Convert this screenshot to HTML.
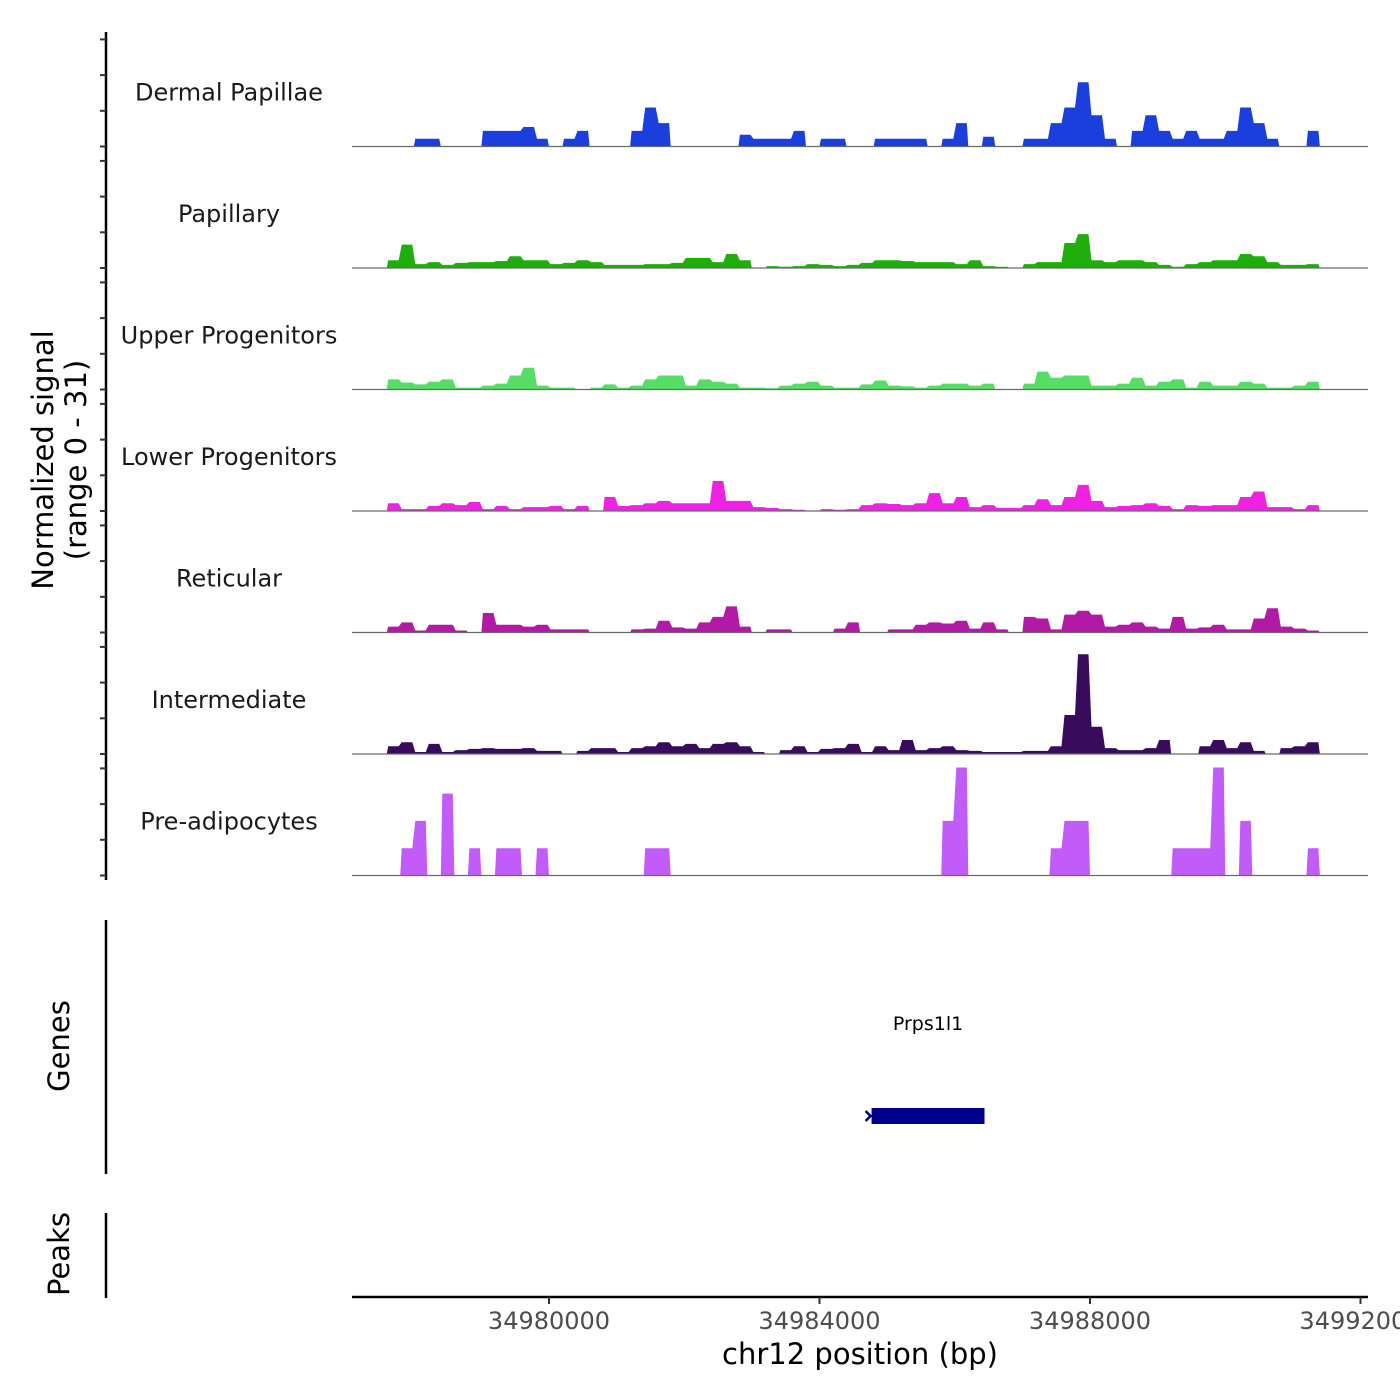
<!DOCTYPE html>
<html><head><meta charset="utf-8"><style>
html,body{margin:0;padding:0;background:#fff;width:1400px;height:1400px;overflow:hidden}
svg{display:block;font-family:"DejaVu Sans","Liberation Sans",sans-serif}
</style></head><body>
<svg id="chart" width="1400" height="1400" viewBox="0 0 1400 1400">
<g id="tracks"></g>
<g id="leftaxis"></g>
<text transform="translate(53,460) rotate(-90)" text-anchor="middle" font-size="29" fill="#000">Normalized signal</text>
<text transform="translate(86,460) rotate(-90)" text-anchor="middle" font-size="29" fill="#000">(range 0 - 31)</text>
<line x1="106" y1="920" x2="106" y2="1174" stroke="#000" stroke-width="2.5"/>
<text transform="translate(69,1046) rotate(-90)" text-anchor="middle" font-size="29" fill="#000">Genes</text>
<line x1="106" y1="1213" x2="106" y2="1298" stroke="#000" stroke-width="2.5"/>
<text transform="translate(69,1254) rotate(-90)" text-anchor="middle" font-size="29" fill="#000">Peaks</text>
<g id="genes"></g>
<g id="xaxis"></g>
<text x="860" y="1364" text-anchor="middle" font-size="29" fill="#000">chr12 position (bp)</text>
</svg>
<script>
const binStart = 34977000;
const binSize = 200;
const trackNames = ["Dermal Papillae","Papillary","Upper Progenitors","Lower Progenitors","Reticular","Intermediate","Pre-adipocytes"];
const trackColors = ["#1a3fdc","#1fae0c","#55dd66","#ee22e2","#b21aa6","#390b5c","#c25cf8"];
const dermal = [0,0,0,0,0,2,2,0,0,0, 4,4,4,5,2,0,2,4,0,0, 0,4,10,6,0,0,0,0,0,3, 2,2,2,4,0,2,2,0,0,2, 2,2,2,0,2,6,0,2.5,0,0, 2,2,6,10,16.5,8,2,0,4,8, 4,2,4,2,2,4,10,6,2,0, 0,4,0,0,0];
const papillary = [0,0,0,2,6,1,1.5,.8,1.3,1.5, 1.5,1.8,3,2,2,1,1.3,2,1.5,.8, .8,.8,1,1,1.3,2.6,2.6,1.5,3.6,2, 0,.5,.3,.5,1,.8,.5,.8,1.3,2, 2,1.8,1.5,1.5,1.5,1,2,.5,.3,0, 1,1.5,1.5,6.4,8.7,2,1.5,2,2,1.5, .8,.3,1,1.5,2,2,3.6,3,1.5,.8, .8,1,0,0,0];
const upper = [0,0,0,2.6,1.8,1.3,2,2.6,.5,.5, 1,1.5,3.6,5.6,1,.5,.5,0,.5,1.3, .5,1,2.6,3.6,3.6,1,2.6,2,1.5,.5, .5,.3,1,1.5,2,1,.5,.5,1.3,2.3, 1,.8,.5,1,1.5,1.5,1,1.5,0,0, 1.5,4.6,3,3.6,3.6,1,1,1.5,3,1, 2,2.6,.5,2,1,1,2,1.5,.5,.5, 1,2,0,0,0];
const lower = [0,0,0,2,.5,.5,1.3,2,1.5,2.3, .5,1.3,.5,1,1,1.3,.5,1.3,0,3.6, 1.3,1.5,2,2.6,2,2,2,7.7,2.6,2.6, 1,.8,.5,.3,0,.5,.3,.5,1.5,2, 1.8,1.5,2,4.6,2,3.6,1,1.5,.8,.8, 1.5,3,1.5,3.6,6.7,2.6,1,1.3,1.5,2, 1.3,.5,1.5,1.3,1.5,1.5,3.6,5,1,1, .5,1.5,0,0,0];
const reticular = [0,0,0,1.5,2.6,.5,2,2,.5,0, 5,2,2,1.5,2,.8,.8,.8,0,0, 0,.8,1,3,1.3,1,2.6,4,6.7,1.5, 0,.8,.8,0,0,0,1,2.6,0,0, .8,.8,2,2.6,2.3,3,1,2.6,.8,0, 4,3.6,.8,4.6,5.6,4.6,1.5,2,2.6,1.5, 1,4,1,1.3,2,.8,.8,3.6,6.2,1.5, 1,.5,0,0,0];
const intermediate = [0,0,0,2,3,.5,2.6,.5,1,1.3, 1.5,1.3,1.3,1.5,.8,.8,0,.8,1.5,1.5, .5,1.5,2,3,2,2.6,1.5,2.6,3,2, .5,0,1,2,.5,1.3,1.5,2.6,.5,2, 1,3.6,1,1.5,2,1,.8,.5,.5,.5, .8,.8,2,10,25.6,7,1.5,1,1,1.5, 3.6,0,0,2,3.6,1.5,3,.8,0,1.5, 2,3,0,0,0];
const preadipocytes = [0,0,0,0,7,14,0,21,0,7, 0,7,7,0,7,0,0,0,0,0, 0,0,7,7,0,0,0,0,0,0, 0,0,0,0,0,0,0,0,0,0, 0,0,0,0,14,27.7,0,0,0,0, 0,0,7,14,14,0,0,0,0,0, 0,7,7,7,27.7,0,14,0,0,0, 0,7,0,0,0];
const xTicks = [34980000,34984000,34988000,34992000];
const xTickLabels = ["34980000","34984000","34988000","34992000"];
const geneNames = ["Prps1l1"];
const geneStarts = [34984770];
const geneEnds = [34986440];

const series = [dermal,papillary,upper,lower,reticular,intermediate,preadipocytes];
const NS="http://www.w3.org/2000/svg";
const X0=352, X1=1368;
function xScale(bp){ return 549 + (bp-34980000)*(270.5/4000); }
const trackH = 121.5, firstBase = 146.5, pxPerUnit = 3.9;
function baseY(t){ return firstBase + t*trackH; }
function yScale(t,v){ return baseY(t) - v*pxPerUnit; }
function mk(tag,attrs,parent){ const e=document.createElementNS(NS,tag); for(const k in attrs) e.setAttribute(k,attrs[k]); parent.appendChild(e); return e; }

const tracksG=document.getElementById('tracks');
series.forEach((vals,t)=>{
  const g=mk('g',{},tracksG);
  
  
  const b=baseY(t);
  let d='M'+xScale(binStart).toFixed(1)+' '+b;
  vals.forEach((v,i)=>{
    const xa=xScale(binStart+binSize*i), xb=xScale(binStart+binSize*(i+1));
    const y=yScale(t,v).toFixed(1);
    const inset = v>0 ? 1.5 : 0;
    d+=' L'+(xa+inset).toFixed(1)+' '+y+' L'+(xb-inset).toFixed(1)+' '+y;
  });
  d+=' L'+xScale(binStart+binSize*vals.length).toFixed(1)+' '+b+' Z';
  const p=mk('path',{d:d,fill:trackColors[t],stroke:'none'},g);
  
  
  const l=mk('line',{x1:X0,x2:X1,y1:b,y2:b,stroke:'#6a6a6a','stroke-width':1.2},g);
  
  
  const tx=mk('text',{x:229,y:b-46,'text-anchor':'middle','font-size':24,fill:'#1a1a1a'},g);
  
  
  tx.textContent=trackNames[t];
});

const la=document.getElementById('leftaxis');
const ax=mk('line',{x1:106,x2:106,y1:32,y2:880,stroke:'#000','stroke-width':2.5},la);


for(let t=0;t<7;t++){
  for(let k=0;k<4;k++){
    const y=baseY(t)-k*35.7;
    const tk=mk('line',{x1:100,x2:106,y1:y,y2:y,stroke:'#333','stroke-width':2},la);
    
    
  }
}

const gg=document.getElementById('genes');
geneNames.forEach((n,i)=>{
  const xs=xScale(geneStarts[i]), xe=xScale(geneEnds[i]);
  const r=mk('rect',{x:xs,y:1108,width:xe-xs,height:16,fill:'#00008b'},gg);
  
  
  const a=mk('path',{d:`M${xs-6} 1111 L${xs-1} 1116 L${xs-6} 1121`,stroke:'#00008b','stroke-width':2.5,fill:'none'},gg);
  
  
  const tx=mk('text',{x:(xs+xe)/2,y:1030,'text-anchor':'middle','font-size':19,fill:'#000'},gg);
  
  
  tx.textContent=n;
});

const xa=document.getElementById('xaxis');
const xl=mk('line',{x1:352,x2:1368,y1:1297,y2:1297,stroke:'#000','stroke-width':2.5},xa);


xTicks.forEach((v,i)=>{
  const x=xScale(v);
  const tk=mk('line',{x1:x,x2:x,y1:1297,y2:1304,stroke:'#333','stroke-width':2},xa);
  
  
  const tx=mk('text',{x:x,y:1329,'text-anchor':'middle','font-size':24,fill:'#4d4d4d'},xa);
  
  
  tx.textContent=xTickLabels[i];
});
</script>
</body></html>
